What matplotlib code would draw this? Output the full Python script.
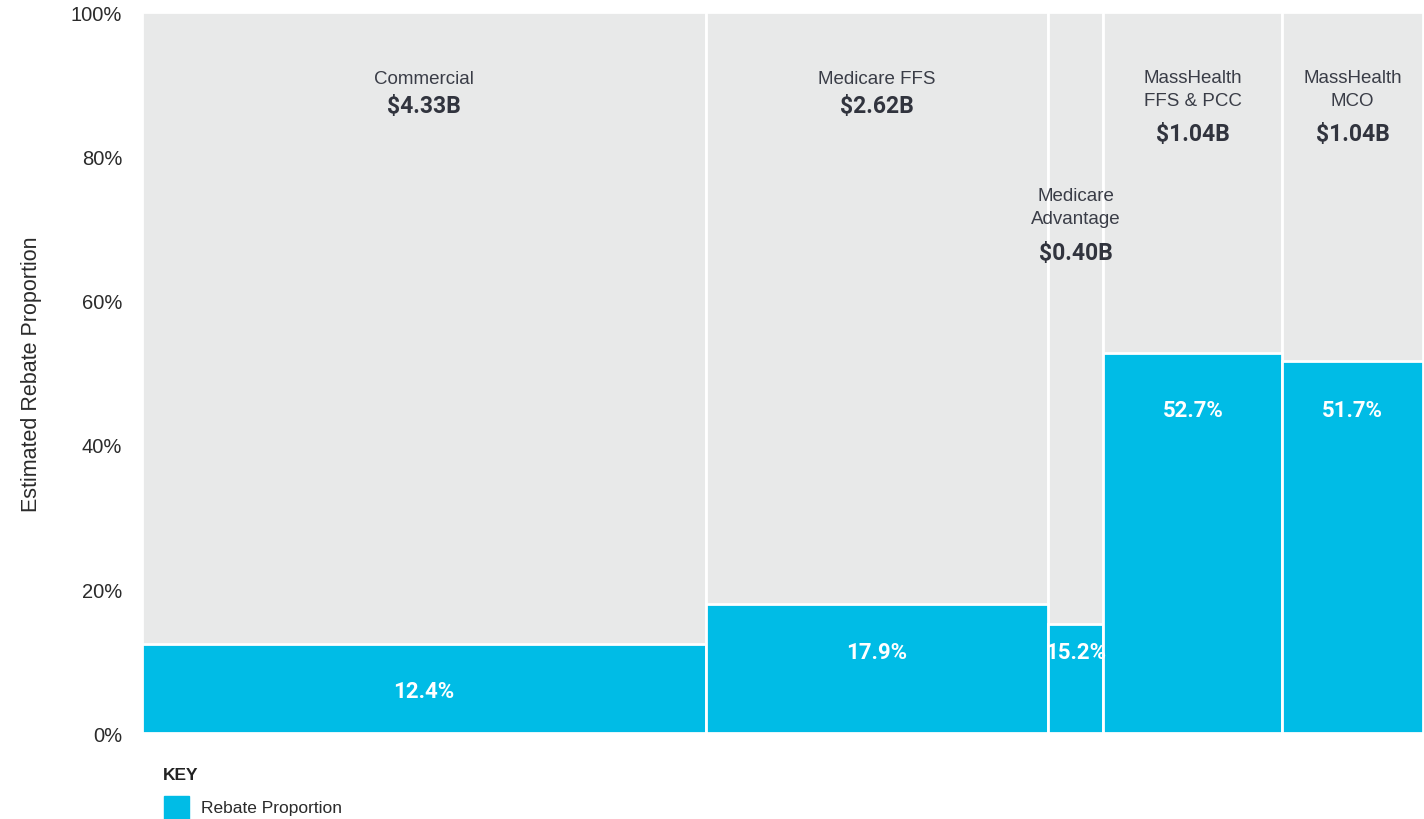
import numpy as np
import matplotlib
matplotlib.use("Agg")
import matplotlib.pyplot as plt
from matplotlib.ticker import FuncFormatter

# segments of the mekko chart
segments = ["Commercial", "Medicare FFS", "Medicare\nAdvantage",
            "MassHealth\nFFS & PCC", "MassHealth\nMCO"]
spend_labels = ["$4.33B", "$2.62B", "$0.40B", "$1.04B", "$1.04B"]
# column widths as drawn in the chart (approx. $B)
col_width = [4.10, 2.49, 0.40, 1.30, 1.02]
rebate_pct = [12.4, 17.9, 15.2, 52.7, 51.7]
yticks = [0, 20, 40, 60, 80, 100]

BLUE = "#00bce6"
GREY = "#e8e9e9"
TXT = "#3a3d47"
BOLD_TXT = "#31343e"

plt.rcParams['font.family'] = ['Liberation Sans', 'DejaVu Sans']
narrow = ['Roboto', 'DejaVu Sans']

fig = plt.figure(figsize=(14.24, 8.2), dpi=100)
ax = fig.add_axes([0.0995, 0.1045, 0.8996, 0.8793])

left = np.concatenate([[0], np.cumsum(col_width)[:-1]])
ax.bar(left, [100] * len(col_width), width=col_width, align='edge',
       color=GREY, edgecolor='white', linewidth=2)
ax.bar(left, rebate_pct, width=col_width, align='edge',
       color=BLUE, edgecolor='white', linewidth=2)

# label layout (y in axis % units)
name_y = [90.8, 90.8, 73.0, 89.4, 89.4]
val_y = [87.1, 87.1, 66.7, 83.2, 83.2]
pct_y = [5.9, 11.3, 11.3, 44.9, 44.9]

centers = left + np.array(col_width) / 2
for i in range(len(segments)):
    ax.text(centers[i], name_y[i], segments[i], ha='center', va='center',
            fontsize=13.5, color=TXT, linespacing=1.45)
    ax.text(centers[i], val_y[i], spend_labels[i], ha='center', va='center',
            fontsize=16.5, fontweight='bold', color=BOLD_TXT, family=narrow)
    ax.text(centers[i], pct_y[i], "%.1f%%" % rebate_pct[i], ha='center',
            va='center', fontsize=16, fontweight='bold', color='white',
            family=narrow)

ax.set_xlim(0, sum(col_width))
ax.set_ylim(0, 100)
ax.set_yticks(yticks)
ax.yaxis.set_major_formatter(FuncFormatter(lambda v, p: "%d%%" % v))
ax.tick_params(axis='y', length=0, pad=14, labelsize=14.5, labelcolor='#2b2b2b')
ax.set_xticks([])
for s in ax.spines.values():
    s.set_visible(False)
ax.set_ylabel("Estimated Rebate Proportion", fontsize=15.5, color='#2b2b2b',
              labelpad=21)

# key
fig.text(163 / 1424, 1 - 776 / 820, "KEY", fontsize=12.5, fontweight='bold',
         color='#222222', va='center', ha='left')
fig.patches.append(plt.Rectangle((164 / 1424, 1 - 820 / 820), 25 / 1424, 23 / 820,
                                 transform=fig.transFigure, color=BLUE))
fig.text(201 / 1424, 1 - 809 / 820, "Rebate Proportion", fontsize=12.5,
         color='#2b2b2b', va='center', ha='left')

fig.savefig("out.png", dpi=100)
